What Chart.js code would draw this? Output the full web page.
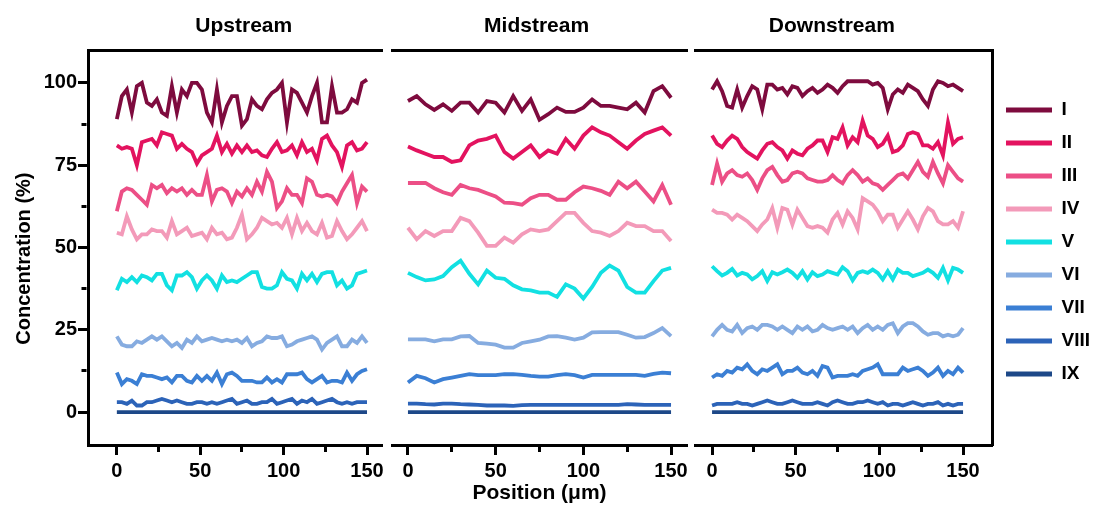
<!DOCTYPE html>
<html>
<head>
<meta charset="utf-8">
<script src="https://cdn.jsdelivr.net/npm/chart.js@4.4.1/dist/chart.umd.min.js"></script>
<style>
  html, body { margin: 0; padding: 0; background: #fff; }
  #wrap { position: relative; width: 1093px; height: 506px; }
  canvas { position: absolute; top: 0; }
</style>
</head>
<body>
<div id="wrap">
  <canvas id="up" width="388" height="506" style="left:0px"></canvas>
  <canvas id="mid" width="304" height="506" style="left:388px"></canvas>
  <canvas id="down" width="401" height="506" style="left:692px"></canvas>
</div>
<script>
const seriesNames = ['I', 'II', 'III', 'IV', 'V', 'VI', 'VII', 'VIII', 'IX'];
const seriesColors = ['#7e0b3e', '#e3135f', '#ec4f86', '#f39ab9', '#12e0e2', '#86ace0', '#3b7fd4', '#2c63b8', '#1d4888'];
// titles are padded with spaces so they sit where the original puts them
const panelTitles = ['   Upstream', 'Midstream ', 'Downstream    '];
const yTitle = 'Concentration (%)    ';
const xTitle = 'Position (μm)';
const yTicks = [0, 12.5, 25, 37.5, 50, 62.5, 75, 87.5, 100];
const xTicks = [0, 25, 50, 75, 100, 125, 150];

// position (µm) of each measurement
const upPositions = [0,3,6,9,12,15,18,21,24,27,30,33,36,39,42,45,48,51,54,57,60,63,66,69,72,75,78,81,84,87,90,93,96,99,102,105,108,111,114,117,120,123,126,129,132,135,138,141,144,147,150];
const midPositions = [0,5,10,15,20,25,30,35,40,45,50,55,60,65,70,75,80,85,90,95,100,105,110,115,120,125,130,135,140,145,150];
const downPositions = upPositions;

// Upstream
const upI = [89,96,98,91,99,100,94,93,95,91,90,99,91,98,96,100,100,98,91,88,98,88,93,96,96,87,89,95,93,92,95,97,98,100,88,98,97,94,91,96,100,88,88,99,91,91,92,95,94,100,101];
const upII = [81,80,80.5,80,75,82,82.5,83,81,85,84.5,84,80,81.5,80,79,75.5,78,79,80,84,79,81.5,78.5,81,79,81,79,79.5,78,77.5,80,82,79,79.5,81,78,82,79,80,76.5,83,84,81,79,74.5,81,82,79.5,80,82];
const upIII = [61,67,68,67.5,66,64.5,63,69,68,69,66.5,68,67,68,66,67.5,66,66,72,64,67.5,68,67,63.5,67,65.5,68,66,70,67,73,70,62,64,68,66,66,63.5,71,70,66,65.5,66,65.5,63.5,67,69.5,72,63.5,68.5,67];
const upIV = [54.5,54,59.5,55.5,52.5,54,54,55.5,55,55,53,58,54,55,56,53.5,54,54.5,52.5,56,54,54.5,52.5,53,56,60,52.5,54,56,59,58,57,57.5,56,59,54,59,55,57.5,55,54,57.5,53,53.5,58,55,52.5,54,56,58,55];
const upV = [37,40.5,39.5,41,39.5,41.5,41,40,42,42,38.5,37,41.5,41.5,42.5,41,37.5,40,41.5,40,37.5,41.5,39.5,40,39.5,40.5,41.5,42.5,42.5,38,37.5,37.5,38.5,42.5,40.5,40,37.5,42,40,42,39.5,42,42.5,42.5,38.5,40,37.5,38.5,42,42.5,43];
const upVI = [23,20.5,20,20,21.5,21,22,23,22,23,21.5,20,21,19.5,22,21,23,21.5,22,22.5,22,21.5,22,21.5,22,21,22.5,20,21,21.5,23,22.5,22.5,23,20,20.5,21.5,22,22.5,23,22,19,21,22,23,20,20,22,21,23,21];
const upVII = [12,8.5,10,9.5,8.5,11.5,11,11,10.5,10,10.5,9,11,11,9.5,9,11,9.5,11,9.5,12,8.5,11.5,12,11,9.5,9.5,9.5,9,9,10.5,9,10,9,11.5,11.5,11.5,12,10,9,10,11,9,9.5,9.5,9,12,9.5,11.5,12.5,13];
const upVIII = [3,3,2.5,3.5,2,2,3,3,3.5,4,3.5,3,3.5,3,2.5,2.5,3,3,2.5,3,2.5,3,3.5,4,2.5,3,3.5,2.5,2.5,3,3,4,2.5,3,3.5,4,2.5,3.5,3,4,2.5,3,3.5,4,3,2.5,3,2.5,3,3,3];
const upIX = [0,0,0,0,0,0,0,0,0,0,0,0,0,0,0,0,0,0,0,0,0,0,0,0,0,0,0,0,0,0,0,0,0,0,0,0,0,0,0,0,0,0,0,0,0,0,0,0,0,0,0];

// Midstream
const midI = [94.5,96,93.5,91.8,93.5,91.5,94,94,91,94.5,94,91,96,91.5,95,88.8,90.5,92.5,91.2,91.2,92.5,95,93,93,92.5,92,94,91,97.5,99,95.5];
const midII = [80.7,79.5,78.5,77.5,77.5,76,76.5,81,82.5,83,84,79,77,79,81,77.5,79.5,78.5,83,80,84,86.5,85,84,82,80,82.5,84.5,85.5,86.5,84];
const midIII = [69.6,69.6,69.6,68,66.8,66,69,68,67.5,66.5,65.5,63.6,63.5,63,65,66,66,64.5,64.5,66.8,68.5,68,67.2,66,70,68,70,67,64,69,63];
const midIV = [56,52.5,55,53.5,55,55,59,58,54.5,50.5,50.5,53,51.5,54,55.5,55,55.5,58,60.5,60.5,57.5,55,54.5,53.5,55,57.5,56.5,56.5,55,55,52];
const midV = [42.3,41,40,40.3,41.3,44,46,42,38.8,43,40.8,40.5,38.5,37.3,37,36.3,36.3,35,38.8,37.5,34.5,38,42.3,44.5,43,38,36.3,36.3,39.8,43,43.8];
const midVI = [22.1,22.1,22.1,21.5,22.1,22.1,23,23.1,21,20.8,20.5,19.6,19.6,21,21.5,22,23,23.1,22.6,22,22.6,24.2,24.3,24.3,24.3,23.5,22.6,22.8,24,25.5,23.1];
const midVII = [9,11,10.3,9,10,10.5,11,11.5,11.2,11.2,11.2,11.5,11.5,11.3,11,10.8,10.8,11.2,11.5,11.2,10.5,11.3,11.3,11.3,11.3,11.3,11.3,11,11.6,12,11.8];
const midVIII = [2.6,2.6,2.4,2.3,2.6,2.6,2.4,2.3,2.2,2.0,2.0,2.0,1.9,2.1,2.2,2.2,2.2,2.2,2.2,2.2,2.2,2.2,2.2,2.2,2.2,2.4,2.3,2.2,2.2,2.2,2.2];
const midIX = [0,0,0,0,0,0,0,0,0,0,0,0,0,0,0,0,0,0,0,0,0,0,0,0,0,0,0,0,0,0,0];

// Downstream
const downI = [98,100.5,97.5,93,92.5,98,92.5,96,99,98,92,99.5,99.5,98,98.5,96.5,99,98.5,96,97.5,98.5,97,98,99.5,98.5,97,99,100.5,100.5,100.5,100.5,100.5,99.5,100,98.5,92,96.5,98,97,99.5,98.5,97.5,95,93,98,100.5,100,99,99.5,98.5,97.5];
const downII = [84,81.5,80.5,82.5,84,83,80.5,79,78,77,79.5,81.5,82,80.5,79.5,77,79.5,78.5,78,80,81,82.5,82.5,79,83.5,83,86.5,81,83.5,82,88.5,84,83,80.5,81.5,84,79,79.5,81,84.5,85,84.5,81,81,80,82,78,88,81.5,83,83.5];
const downIII = [69,75.5,70,72.5,73.5,72,71.5,72.5,70.5,67.5,71,73.5,74.5,72,70,70.5,72.5,73,72.5,71,70.5,70,70,70.5,72,70.5,69.5,72,73.5,72,70,71,69.5,69,67.5,69,70.5,72,72.5,71,73.5,76,73,71.5,76,72.5,69.5,75,73,71,70];
const downIV = [61.5,60.5,60.5,60,58.5,60,59,58,56.5,55,57,58.5,62,56,62,61.5,57,61.5,59,56.5,56,56.5,56,54.5,58.5,60.5,57,61,59,55.5,65,64,63,61,58,60,60,56,58.5,61,58.5,55.5,59.5,62,61,58,57,57,58,56,61];
const downV = [44.3,42.8,41.5,42.3,43.5,41.5,42.3,41.8,40.3,41.3,42.8,39.8,42.5,41.8,42.5,43.3,42.3,40.8,42.8,40.3,42.5,41.3,41.8,42.8,42.3,41.8,44,42.8,40,42.3,42.8,42.3,43.3,42.3,40.3,42.8,40.3,43.3,42.3,42.3,41.3,41.8,42.3,43.3,42.3,40.8,43.8,40,43.8,43.3,42.3];
const downVI = [23,25,26.5,25,24.5,26.5,24,25.5,26,25,26.5,26.5,26,25,26,25,24,26,25,26,24.5,25,26.5,25.5,25,25.5,26,25,26,24,25.5,26.5,25,26,25,26.5,27,24,26,27,27,26,24.5,23.5,24,24,23,23.5,23,23.5,25.5];
const downVII = [10.5,11.5,11,12.5,12,13.5,13,14.5,12.5,11.5,13,12.5,13.5,14.5,11.5,12.5,12.5,13.5,12,11.5,12.5,11,14,13.5,10.5,11,11,11,11.5,11,12.5,13,13.5,14.5,11.5,11.5,11.5,11.5,13.5,12.5,13,13.5,12.5,11,12,13.5,11,12.5,11.5,13.5,12];
const downVIII = [2,2.5,2.5,2.5,2.5,3,2.5,2.5,2,2.5,3,3.5,3,2.5,2.5,3,3.5,3,2.5,2.5,2.5,3,2.5,2,3,3.5,3,2.5,2.5,3,3,3.5,3,2.5,3,2,2.5,2.5,2,2.5,3,2.5,2,2.5,2.5,3,2,2.5,2,2.5,2.5];
const downIX = [0,0,0,0,0,0,0,0,0,0,0,0,0,0,0,0,0,0,0,0,0,0,0,0,0,0,0,0,0,0,0,0,0,0,0,0,0,0,0,0,0,0,0,0,0,0,0,0,0,0,0];

Chart.defaults.font.family = "'Liberation Sans', Arial, sans-serif";
Chart.defaults.font.weight = 'bold';
Chart.defaults.color = '#000';

const BOLD = (size) => ({ family: "'Liberation Sans', Arial, sans-serif", weight: 'bold', size: size });
const isMinor = (ctx, step) => ctx.tick && ctx.tick.value % step !== 0;

function makePanel(id, cfg) {
  const datasets = seriesNames.map((name, i) => ({
    label: name,
    data: cfg.positions.map((p, j) => ({ x: p, y: cfg.values[i][j] })),
    borderColor: seriesColors[i],
    backgroundColor: seriesColors[i],
    borderWidth: 3.8,
    pointRadius: 0,
    tension: 0
  }));

  const scales = {
    x: {
      type: 'linear', position: 'bottom', min: cfg.xMin, max: cfg.xMax,
      afterBuildTicks: (s) => { s.ticks = xTicks.map(v => ({ value: v })); },
      afterFit: (s) => { s.height = 61; },
      // bottom ticks start at the axis line, so minor ones keep only their first 5px
      grid: { drawOnChartArea: false, tickLength: 10, tickWidth: 3, tickColor: '#000',
        tickBorderDash: (ctx) => (isMinor(ctx, 50) ? [5, 40] : []) },
      border: { color: '#000', width: 3 },
      ticks: { callback: (v) => (v % 50 === 0 ? v : ''), font: BOLD(20), color: '#000', padding: 4, maxRotation: 0, autoSkip: false },
      title: { display: !!cfg.xTitle, text: cfg.xTitle || '', font: BOLD(21), color: '#000', padding: { top: 0, bottom: 0 } }
    },
    x2: {
      type: 'linear', position: 'top', min: cfg.xMin, max: cfg.xMax,
      afterBuildTicks: (s) => { s.ticks = []; },
      afterFit: (s) => { s.height = 50; },
      grid: { drawOnChartArea: false, drawTicks: false },
      border: { color: '#000', width: 3 },
      ticks: { display: false },
      title: { display: true, text: cfg.title, font: BOLD(21), color: '#000', padding: { top: 14, bottom: 0 } }
    }
  };

  if (cfg.yAxis === 'left') {
    scales.y = {
      type: 'linear', position: 'left', min: -10, max: 110,
      afterBuildTicks: (s) => { s.ticks = yTicks.map(v => ({ value: v })); },
      afterFit: (s) => { s.width = 88; },
      // left ticks are drawn from the outer end inwards: skip 3.5px, then 5px
      grid: { drawOnChartArea: false, tickLength: 10, tickWidth: 3, tickColor: '#000',
        tickBorderDash: (ctx) => (isMinor(ctx, 25) ? [0, 3.5, 5, 100] : []) },
      border: { color: '#000', width: 3 },
      ticks: { callback: (v) => (v % 25 === 0 ? v : ''), font: BOLD(20), color: '#000', padding: 1 },
      title: { display: true, text: yTitle, font: BOLD(20), color: '#000', padding: { top: 12, bottom: 0 } }
    };
  } else if (cfg.yAxis === 'right') {
    scales.y = {
      type: 'linear', position: 'right', min: -10, max: 110,
      afterFit: (s) => { s.width = 0; },
      grid: { drawOnChartArea: false, drawTicks: false },
      border: { color: '#000', width: 3 },
      ticks: { display: false }
    };
  } else {
    scales.y = { type: 'linear', display: false, min: -10, max: 110 };
  }

  return new Chart(document.getElementById(id), {
    type: 'line',
    data: { datasets: datasets },
    options: {
      responsive: false,
      animation: false,
      layout: { padding: cfg.padding },
      scales: scales,
      plugins: {
        tooltip: { enabled: false },
        legend: {
          display: !!cfg.legend,
          position: 'right',
          align: 'start',
          maxWidth: 101,
          // empty spacer title pushes the first entry down to the original's height
          title: { display: true, text: '', font: { size: 10, lineHeight: 1 }, padding: { top: 76.5, bottom: 0 } },
          labels: {
            boxWidth: 46, boxHeight: 5, padding: 14, font: BOLD(19), color: '#000',
            useBorderRadius: true, borderRadius: 2.5,
            generateLabels: (chart) => chart.data.datasets.map((d, i) => ({
              text: d.label, fillStyle: d.borderColor, strokeStyle: d.borderColor,
              lineWidth: 0, hidden: false, datasetIndex: i, fontColor: '#000'
            }))
          }
        }
      }
    }
  });
}

makePanel('up', {
  title: panelTitles[0], positions: upPositions, xMin: -17.3, xMax: 159,
  values: [upI, upII, upIII, upIV, upV, upVI, upVII, upVIII, upIX],
  yAxis: 'left', padding: { left: 0, right: 5, top: 0, bottom: 0 }
});
makePanel('mid', {
  title: panelTitles[1], positions: midPositions, xMin: -9.1, xMax: 159.1, xTitle: xTitle,
  values: [midI, midII, midIII, midIV, midV, midVI, midVII, midVIII, midIX],
  yAxis: 'none', padding: { left: 4, right: 4, top: 0, bottom: 0 }
});
makePanel('down', {
  title: panelTitles[2], positions: downPositions, xMin: -10.2, xMax: 167.3,
  values: [downI, downII, downIII, downIV, downV, downVI, downVII, downVIII, downIX],
  yAxis: 'right', legend: true, padding: { left: 3, right: 0, top: 0, bottom: 0 }
});
</script>
</body>
</html>
